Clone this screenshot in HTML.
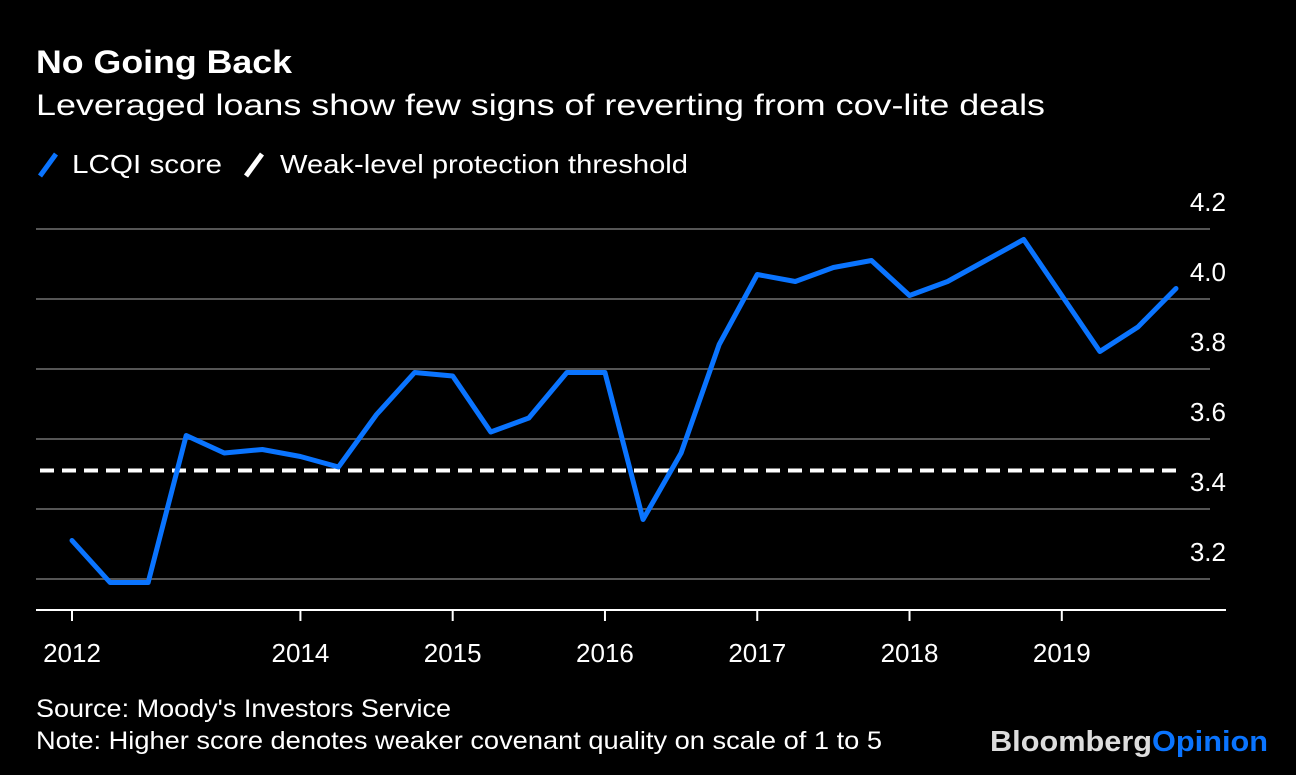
<!DOCTYPE html>
<html><head><meta charset="utf-8"><style>
body{margin:0;background:#000;width:1296px;height:770px;overflow:hidden;font-family:"Liberation Sans",sans-serif;color:#fff}
</style></head><body>
<svg width="1296" height="770" xmlns="http://www.w3.org/2000/svg" font-family="Liberation Sans, sans-serif">
<rect width="1296" height="770" fill="#000"/>
<text x="36" y="73" font-size="32" font-weight="bold" fill="#fff" textLength="256" lengthAdjust="spacingAndGlyphs">No Going Back</text>
<text x="36" y="115" font-size="30" fill="#fff" textLength="1009" lengthAdjust="spacingAndGlyphs">Leveraged loans show few signs of reverting from cov-lite deals</text>
<g>
<line x1="40" y1="176" x2="56" y2="154" stroke="#0a74ff" stroke-width="5"/>
<text x="72" y="173" font-size="26" fill="#fff" textLength="150" lengthAdjust="spacingAndGlyphs">LCQI score</text>
<line x1="246" y1="176" x2="262" y2="154" stroke="#fff" stroke-width="5"/>
<text x="280" y="173" font-size="26" fill="#fff" textLength="408" lengthAdjust="spacingAndGlyphs">Weak-level protection threshold</text>
</g>
<g id="grid"></g><g id="plot"></g>
<text x="36" y="717" font-size="25" fill="#fff" textLength="415" lengthAdjust="spacingAndGlyphs">Source: Moody's Investors Service</text>
<text x="36" y="749" font-size="25" fill="#fff" textLength="846" lengthAdjust="spacingAndGlyphs">Note: Higher score denotes weaker covenant quality on scale of 1 to 5</text>
<text x="990" y="751" font-size="29" font-weight="bold" textLength="278" lengthAdjust="spacingAndGlyphs"><tspan fill="#ddd">Bloomberg</tspan><tspan fill="#0a74ff">Opinion</tspan></text>
</svg>
<script>
const lcqi=[3.31,3.19,3.19,3.61,3.56,3.57,3.55,3.52,3.67,3.79,3.78,3.62,3.66,3.79,3.79,3.37,3.56,3.87,4.07,4.05,4.09,4.11,4.01,4.05,4.11,4.17,4.01,3.85,3.92,4.03];
const threshold=[3.51];
const yTicks=[3.2,3.4,3.6,3.8,4.0,4.2];
const xLabels=["2012","2014","2015","2016","2017","2018","2019"];
const xLabelIdx=[0,6,10,14,18,22,26];
const NS="http://www.w3.org/2000/svg";
const x=i=>72+i*(1176-72)/29;
const y=v=>299-(v-4.0)*350;
const grid=document.getElementById('grid'),plot=document.getElementById('plot');
function mk(tag,attrs,parent){const e=document.createElementNS(NS,tag);for(const k in attrs)e.setAttribute(k,attrs[k]);parent.appendChild(e);return e;}
yTicks.forEach(t=>{
 const l=mk('line',{x1:36,x2:1210,y1:y(t),y2:y(t),stroke:'#555','stroke-width':2},grid);
 
 
 const tx=mk('text',{x:1226,y:y(t)-18,'font-size':26,fill:'#fff','text-anchor':'end'},grid);
 tx.textContent=t.toFixed(1);
 
 
});
const ax=mk('line',{x1:36,x2:1226,y1:610,y2:610,stroke:'#fff','stroke-width':2},grid);


xLabels.forEach((s,k)=>{
 const xi=x(xLabelIdx[k]);
 const tk=mk('line',{x1:xi,x2:xi,y1:610,y2:621,stroke:'#fff','stroke-width':2},grid);
 
 
 const tx=mk('text',{x:xi,y:662,'font-size':26,fill:'#fff','text-anchor':'middle'},grid);
 tx.textContent=s;
 
 
});
const th=mk('line',{x1:40,x2:1178,y1:y(threshold[0]),y2:y(threshold[0]),stroke:'#fff','stroke-width':4,'stroke-dasharray':'14 8'},plot);


const p=mk('polyline',{points:lcqi.map((v,i)=>x(i)+','+y(v)).join(' '),fill:'none',stroke:'#0a74ff','stroke-width':5,'stroke-linejoin':'round','stroke-linecap':'round'},plot);


</script>
</body></html>
